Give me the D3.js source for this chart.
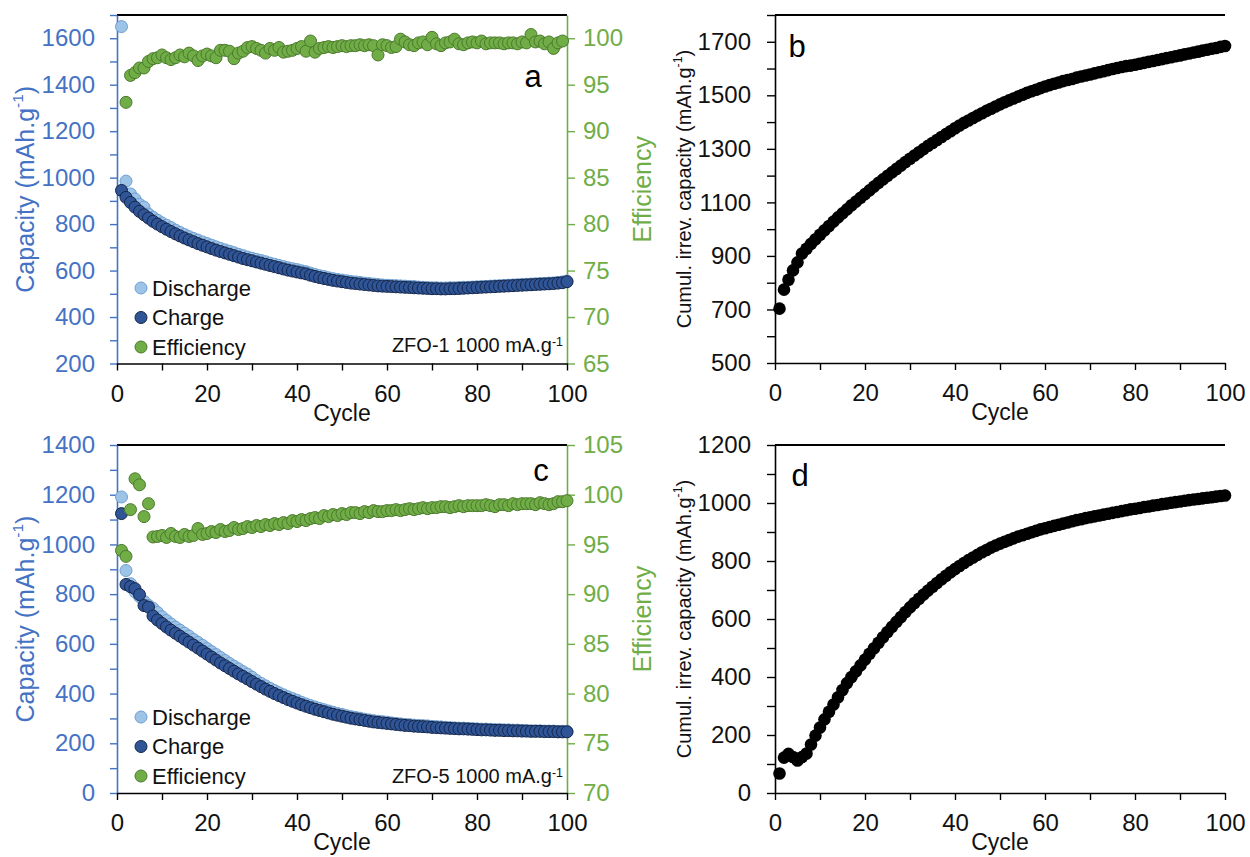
<!DOCTYPE html>
<html><head><meta charset="utf-8">
<script src="https://cdn.jsdelivr.net/npm/d3@7"></script>
<style>body{margin:0;background:#fff}svg{display:block}</style>
</head><body>
<script>
// ---------------- DATA ----------------
const cycles = d3.range(1, 101);
const xTicks = [0, 20, 40, 60, 80, 100];

// Panel a : ZFO-1
const dischargeA = [1650,985,930,908,885,873,843,829,817,805,
795,785,774,764,755,746,738,731,723,716,
709,702,695,689,683,677,670,664,658,653,
648,643,638,632,627,622,617,612,608,604,
599,595,589,583,578,574,569,565,562,559,
556,553,551,549,546,544,542,540,538,537,
536,535,534,533,532,531,529,528,527,526,
526,525,525,526,526,527,528,528,529,530,
531,532,533,534,535,536,537,538,539,540,
541,542,543,544,545,546,547,549,551,555];
const chargeA = [945,915,893,873,855,840,826,812,800,789,
778,768,758,749,740,732,724,716,709,702,
695,688,682,676,670,664,658,652,647,642,
637,632,627,622,617,612,607,602,598,594,
590,586,580,575,570,566,562,558,555,552,
549,546,544,542,540,538,536,534,533,532,
531,530,529,528,527,526,525,524,523,522,
522,521,521,522,522,523,524,525,526,527,
528,529,530,531,532,533,534,535,536,537,
538,539,540,541,542,543,544,546,548,552];
const effCyclesA = d3.range(2, 101);
const efficiencyA = [93.1,96.0,96.3,96.8,96.8,97.5,97.8,97.9,98.2,
97.9,97.7,97.9,98.2,98.0,98.4,98.1,97.6,98.1,98.3,
98.1,97.9,98.7,98.7,98.6,97.8,98.4,98.6,99.0,99.1,
98.9,98.7,98.4,98.9,98.7,99.0,98.5,98.6,98.7,98.9,
99.1,98.6,99.7,98.5,98.9,99.0,99.1,99.0,99.1,99.2,
99.1,99.2,99.2,99.3,99.2,99.3,99.2,98.2,99.3,99.2,
99.0,99.1,99.9,99.6,99.3,99.2,99.5,99.6,99.3,100.1,
99.4,99.2,99.5,99.6,99.9,99.4,99.3,99.5,99.6,99.5,
99.7,99.4,99.5,99.5,99.5,99.4,99.5,99.5,99.4,99.6,
99.5,100.4,99.6,99.7,99.4,99.6,98.9,99.5,99.7];

// Panel b : cumulative irreversible capacity ZFO-1
const cumulB = [703,774,811,846,876,909,927,945,962,979,
996,1012,1028,1044,1059,1074,1089,1103,1117,1131,
1145,1159,1173,1186,1199,1212,1225,1238,1251,1263,
1275,1287,1299,1311,1322,1333,1344,1355,1366,1377,
1387,1397,1406,1415,1424,1433,1442,1450,1458,1466,
1474,1481,1488,1495,1502,1509,1515,1521,1527,1533,
1538,1543,1548,1553,1557,1561,1566,1570,1574,1578,
1582,1586,1590,1594,1598,1602,1606,1609,1611,1614,
1618,1621,1625,1628,1632,1635,1639,1642,1646,1649,
1653,1656,1660,1663,1667,1670,1674,1677,1681,1684];

// Panel c : ZFO-5
const dischargeC = [1191,895,842,809,790,771,755,743,726,709,
694,680,667,655,643,631,618,606,594,581,
569,557,545,533,521,510,499,488,478,466,
452,441,431,421,412,403,395,387,380,373,
365,358,352,346,340,335,330,325,320,316,
311,307,304,301,297,294,291,289,287,285,
282,280,278,276,275,273,272,271,270,268,
267,266,264,263,262,261,261,260,259,258,
257,257,256,255,255,254,254,253,253,252,
251,250,250,250,249,249,249,248,248,248];
const chargeC = [1124,839,830,822,798,754,748,712,696,682,
668,655,643,631,619,607,595,583,571,559,
547,535,523,512,501,490,479,469,459,448,
438,428,418,409,400,392,384,376,369,362,
355,349,343,337,332,327,322,317,313,309,
305,301,298,295,292,289,286,284,282,280,
278,276,274,272,271,269,268,267,266,264,
263,262,261,260,259,258,258,257,256,255,
254,254,253,252,252,251,251,250,250,249,
249,248,248,248,247,247,247,246,246,246];
const efficiencyC = [94.4,93.8,98.5,101.6,101.0,97.8,99.1,95.75,95.8,95.9,
95.7,96.1,95.8,95.7,96.0,95.8,95.9,96.6,96.0,96.1,
96.3,96.2,96.5,96.3,96.4,96.7,96.5,96.6,96.8,96.7,
96.9,96.8,97.0,96.9,97.1,97.0,97.2,97.1,97.4,97.3,
97.5,97.4,97.6,97.7,97.6,97.9,97.8,98.0,97.9,98.1,
98.0,98.2,98.2,98.1,98.3,98.2,98.4,98.3,98.3,98.4,
98.4,98.5,98.4,98.5,98.6,98.5,98.6,98.7,98.6,98.7,
98.7,98.8,98.8,98.7,98.8,98.9,98.8,98.9,98.9,98.9,
98.9,99.0,98.9,98.8,99.0,99.0,98.9,99.1,99.0,99.1,
99.1,99.1,99.0,99.2,99.1,99.0,99.1,99.3,99.3,99.4];

// Panel d : cumulative irreversible capacity ZFO-5
const cumulD = [67,122,135,124,112,124,136,167,198,226,
254,280,305,330,355,379,400,420,440,460,
480,499,518,537,555,573,590,607,624,640,
655,670,684,698,711,724,737,749,761,772,
783,793,803,812,821,830,838,846,853,860,
866,872,878,884,889,894,899,904,909,913,
917,921,925,929,933,937,941,944,948,951,
954,957,960,963,966,969,972,975,978,980,
983,986,988,991,993,996,998,1001,1003,1005,
1008,1010,1012,1014,1016,1018,1020,1022,1024,1026];

const legendLabels = ["Discharge", "Charge", "Efficiency"];
const noteA = "ZFO-1 1000 mA.g";
const noteC = "ZFO-5 1000 mA.g";

// ---------------- STYLE ----------------
const FONT = "'Liberation Sans', Arial, Helvetica, sans-serif";
const BLUE = "#4472C4", GREEN = "#70AD47";
const COL = {
  discharge: {fill: "#9DC3E6", stroke: "#6E9FD3"},
  charge: {fill: "#2F5597", stroke: "#15264A"},
  efficiency: {fill: "#70AD47", stroke: "#4B7A2C"}
};
const R = 6;
const TICKFS = 24;

const svg = d3.select("body").append("svg").attr("width", 1250).attr("height", 857)
  .style("font-family", FONT);

function styleAxis(g, color, fs) {
  g.selectAll("path.domain").attr("stroke", color).attr("stroke-width", 1.6);
  g.selectAll(".tick line").attr("stroke", color).attr("stroke-width", 1.4);
  g.selectAll(".tick text").attr("fill", color).style("font-size", fs + "px").style("font-family", FONT);
}

function supText(sel, main, sup, tail) {
  sel.append("tspan").text(main);
  sel.append("tspan").text(sup).style("font-size", "62%").attr("dy", "-0.5em");
  if (tail) sel.append("tspan").text(tail).attr("dy", "0.32em");
}

function xAxis(g, x, yBot) {
  const ax = g.append("g").attr("transform", `translate(0,${yBot})`)
    .call(d3.axisBottom(x).tickValues(d3.range(0, 101, 10))
      .tickFormat(d => xTicks.includes(d) ? d : "").tickSize(7).tickSizeOuter(0).tickPadding(14));
  styleAxis(ax, "#000", TICKFS);
  ax.selectAll(".tick text").attr("fill", "#111");
  g.append("text").attr("x", (x.range()[0] + x.range()[1]) / 2).attr("y", yBot + 49)
    .attr("text-anchor", "middle").attr("dominant-baseline", "central")
    .style("font-size", "23px").attr("fill", "#111").text("Cycle");
}

function topLine(g, x, yTop) {
  g.append("line").attr("x1", x.range()[0]).attr("x2", x.range()[1])
    .attr("y1", yTop).attr("y2", yTop).attr("stroke", "#000").attr("stroke-width", 2);
}

// Capacity/efficiency panel
function capPanel(cfg) {
  const g = svg.append("g");
  const x = d3.scaleLinear().domain([0, 100]).range([117, 567]);
  const y = d3.scaleLinear().domain(cfg.yDom).range([cfg.yBot, cfg.yTop]);
  const yr = d3.scaleLinear().domain(cfg.yrDom).range([cfg.yBot, cfg.yTop]);

  topLine(g, x, cfg.yTop);
  const la = g.append("g").attr("transform", "translate(117,0)")
    .call(d3.axisLeft(y).tickValues(d3.range(cfg.yDom[0], cfg.yDom[1] + 1, 100))
      .tickFormat(d => cfg.yLabels.includes(d) ? d : "").tickSize(7).tickSizeOuter(0).tickPadding(15));
  styleAxis(la, BLUE, TICKFS);
  const ra = g.append("g").attr("transform", "translate(567,0)")
    .call(d3.axisRight(yr).tickValues(cfg.yrTicks).tickSize(8).tickSizeOuter(0).tickPadding(8));
  styleAxis(ra, GREEN, TICKFS);
  xAxis(g, x, cfg.yBot);

  const mid = (cfg.yTop + cfg.yBot) / 2;
  const t1 = g.append("text").attr("transform", `translate(25,${mid}) rotate(-90)`)
    .attr("text-anchor", "middle").attr("dominant-baseline", "central")
    .style("font-size", "25px").attr("fill", BLUE);
  supText(t1, "Capacity (mAh.g", "-1", ")");
  g.append("text").attr("transform", `translate(642,${mid}) rotate(-90)`)
    .attr("text-anchor", "middle").attr("dominant-baseline", "central")
    .style("font-size", "25px").attr("fill", GREEN).text("Efficiency");

  const dots = (xs, vals, sc, c) => g.append("g").selectAll("circle").data(vals).join("circle")
    .attr("cx", (d, i) => x(xs[i])).attr("cy", d => sc(d)).attr("r", R)
    .attr("fill", c.fill).attr("stroke", c.stroke).attr("stroke-width", 1);
  dots(cycles, cfg.discharge, y, COL.discharge);
  dots(cycles, cfg.charge, y, COL.charge);
  dots(cfg.effCycles, cfg.efficiency, yr, COL.efficiency);

  const keys = ["discharge", "charge", "efficiency"];
  legendLabels.forEach((lab, i) => {
    const ly = cfg.legY + i * 29.5;
    g.append("circle").attr("cx", 141).attr("cy", ly).attr("r", 6)
      .attr("fill", COL[keys[i]].fill).attr("stroke", COL[keys[i]].stroke).attr("stroke-width", 1);
    g.append("text").attr("x", 152).attr("y", ly).attr("dominant-baseline", "central")
      .style("font-size", "22px").attr("fill", "#111").text(lab);
  });
  const nt = g.append("text").attr("x", 563).attr("y", cfg.noteY).attr("text-anchor", "end")
    .style("font-size", "20px").attr("fill", "#111");
  supText(nt, cfg.note, "-1");
  g.append("text").attr("x", cfg.letterX).attr("y", cfg.letterY).attr("text-anchor", "middle")
    .attr("dominant-baseline", "central").style("font-size", "31px").attr("fill", "#000").text(cfg.letter);
}

// cumulative panel
function cumPanel(cfg) {
  const g = svg.append("g");
  const x = d3.scaleLinear().domain([0, 100]).range([775, 1225]);
  const y = d3.scaleLinear().domain(cfg.yDom).range([cfg.yBot, cfg.yTop]);
  topLine(g, x, cfg.yTop);
  const la = g.append("g").attr("transform", "translate(775,0)")
    .call(d3.axisLeft(y).tickValues(d3.range(cfg.yDom[0], cfg.yDom[1] + 1, 100))
      .tickFormat(d => cfg.yLabels.includes(d) ? d : "").tickSize(8).tickSizeOuter(0).tickPadding(16));
  styleAxis(la, "#000", TICKFS);
  la.selectAll(".tick text").attr("fill", "#111");
  xAxis(g, x, cfg.yBot);
  const mid = (cfg.yTop + cfg.yBot) / 2;
  const t = g.append("text").attr("transform", `translate(684,${mid}) rotate(-90)`)
    .attr("text-anchor", "middle").attr("dominant-baseline", "central")
    .style("font-size", "20px").attr("fill", "#111");
  supText(t, "Cumul. irrev. capacity (mAh.g", "-1", ")");
  g.append("g").selectAll("circle").data(cfg.values).join("circle")
    .attr("cx", (d, i) => x(cycles[i])).attr("cy", d => y(d)).attr("r", 6.3).attr("fill", "#000");
  g.append("text").attr("x", cfg.letterX).attr("y", cfg.letterY).attr("text-anchor", "middle")
    .attr("dominant-baseline", "central").style("font-size", "31px").attr("fill", "#000").text(cfg.letter);
}

capPanel({yDom: [200, 1700], yLabels: d3.range(200, 1601, 200), yrDom: [65, 102.5], yrTicks: d3.range(65, 101, 5),
  yTop: 15, yBot: 363.5, discharge: dischargeA, charge: chargeA, effCycles: effCyclesA, efficiency: efficiencyA,
  legY: 288, note: noteA, noteY: 352, letter: "a", letterX: 533, letterY: 76});
capPanel({yDom: [0, 1400], yLabels: d3.range(0, 1401, 200), yrDom: [70, 105], yrTicks: d3.range(70, 106, 5),
  yTop: 445, yBot: 793, discharge: dischargeC, charge: chargeC, effCycles: cycles, efficiency: efficiencyC,
  legY: 717, note: noteC, noteY: 783, letter: "c", letterX: 541, letterY: 470});
cumPanel({yDom: [500, 1800], yLabels: d3.range(500, 1701, 200), yTop: 15, yBot: 363,
  values: cumulB, letter: "b", letterX: 797, letterY: 46});
cumPanel({yDom: [0, 1200], yLabels: d3.range(0, 1201, 200), yTop: 445, yBot: 793,
  values: cumulD, letter: "d", letterX: 800, letterY: 475});
</script>
</body></html>
